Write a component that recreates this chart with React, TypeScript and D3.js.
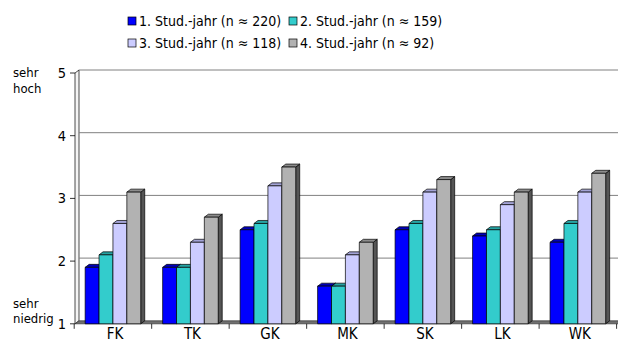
import React from "react";
import * as d3 from "d3";

// Skill areas (x axis) and mean self-ratings per year of study
const categories = ["FK", "TK", "GK", "MK", "SK", "LK", "WK"];
const seriesNames = [
  "1. Stud.-jahr (n ≈ 220)",
  "2. Stud.-jahr (n ≈ 159)",
  "3. Stud.-jahr (n ≈ 118)",
  "4. Stud.-jahr (n ≈ 92)",
];
const year1 = [1.9, 1.9, 2.5, 1.6, 2.5, 2.4, 2.3];
const year2 = [2.1, 1.9, 2.6, 1.6, 2.6, 2.5, 2.6];
const year3 = [2.6, 2.3, 3.2, 2.1, 3.1, 2.9, 3.1];
const year4 = [3.1, 2.7, 3.5, 2.3, 3.3, 3.1, 3.4];
const yTicks = [1, 2, 3, 4, 5];

const seriesValues = [year1, year2, year3, year4];
const frontColors = ["#0000ff", "#33cccc", "#ccccff", "#b2b2b2"];
const topColors = ["#0000b8", "#26a3a3", "#a3a3d6", "#8c8c8c"];
const sideColors = ["#00007a", "#1a6b6b", "#6b6b8c", "#555555"];

const W = 618;
const H = 342;
const DX = 4; // depth offset of the back wall
const DY = 3;
const FONT = "'DejaVu Sans Condensed', 'DejaVu Sans', Verdana, sans-serif";

export default function App() {
  const x0 = 75;
  const xRight = 618;
  const y = d3.scaleLinear().domain([1, 5]).range([323.8, 73]);
  const band = d3.scaleBand<string>().domain(categories).range([74.2, 616.6]).padding(0);
  const groupW = 55.6;
  const inner = d3
    .scaleBand<number>()
    .domain(d3.range(seriesNames.length))
    .range([0, groupW])
    .padding(0);
  const bw = inner.bandwidth();
  const yBase = y(1);

  const pts = (arr: [number, number][]) => arr.map((p) => p.join(",")).join(" ");

  const bars: React.ReactNode[] = [];
  categories.forEach((c, ci) => {
    const gx = (band(c) as number) + (band.bandwidth() - groupW) / 2;
    seriesValues.forEach((vals, si) => {
      const v = vals[ci];
      const xl = gx + (inner(si) as number);
      const xr = xl + bw;
      const yt = y(v);
      bars.push(
        <g key={`${c}-${si}`} stroke="#000" strokeWidth={0.7} strokeLinejoin="round">
          <polygon
            points={pts([
              [xr, yt],
              [xr + DX, yt - DY],
              [xr + DX, yBase - DY],
              [xr, yBase],
            ])}
            fill={sideColors[si]}
          />
          <polygon
            points={pts([
              [xl, yt],
              [xl + DX, yt - DY],
              [xr + DX, yt - DY],
              [xr, yt],
            ])}
            fill={topColors[si]}
          />
          <rect x={xl} y={yt} width={bw} height={yBase - yt} fill={frontColors[si]} />
        </g>
      );
    });
  });

  const boundaries = categories.map((c) => band(c) as number).concat([616.6]);

  return (
    <svg width={W} height={H} style={{ position: "absolute", left: 0, top: 0, background: "#fff" }}>
      {/* legend */}
      <g fontFamily={FONT} fontSize={14} fill="#000">
        {seriesNames.map((name, i) => {
          const col = i % 2;
          const row = Math.floor(i / 2);
          const sx = col === 0 ? 128 : 289;
          const cy = row === 0 ? 21 : 43;
          return (
            <g key={name}>
              <rect x={sx} y={cy - 4} width={8} height={8} fill={frontColors[i]} stroke="#000" strokeWidth={0.7} />
              <text x={sx + 11} y={cy + 5}>{name}</text>
            </g>
          );
        })}
      </g>

      {/* left wall */}
      <polygon
        points={pts([
          [x0, y(5)],
          [x0 + DX, y(5) - DY],
          [x0 + DX, yBase - DY],
          [x0, yBase],
        ])}
        fill="#f4f4f4"
        stroke="#000"
        strokeWidth={0.7}
      />

      {/* gridlines on the back wall */}
      {yTicks.slice(1).map((t) => (
        <line key={t} x1={x0 + DX} x2={xRight} y1={y(t) - DY} y2={y(t) - DY} stroke="#808080" strokeWidth={1} />
      ))}

      {/* floor */}
      <polygon
        points={pts([
          [x0, yBase],
          [xRight + 2, yBase],
          [xRight + 2 + DX, yBase - DY],
          [x0 + DX, yBase - DY],
        ])}
        fill="#707070"
        stroke="#333"
        strokeWidth={0.7}
      />

      {/* y axis ticks and labels */}
      <g fontFamily={FONT} fontSize={14.5} fill="#000">
        {yTicks.map((t) => (
          <g key={t}>
            <line x1={70} x2={x0} y1={y(t)} y2={y(t)} stroke="#000" strokeWidth={0.8} />
            <text x={66} y={y(t) + 5} textAnchor="end">{t}</text>
          </g>
        ))}
      </g>
      <g fontFamily={FONT} fontSize={13} fill="#000">
        <text x={13} y={77}>sehr</text>
        <text x={13} y={93}>hoch</text>
        <text x={13} y={308}>sehr</text>
        <text x={13} y={323}>niedrig</text>
      </g>

      {/* category ticks below the floor */}
      {boundaries.map((b, i) => (
        <line key={i} x1={b} x2={b} y1={yBase} y2={yBase + 5} stroke="#000" strokeWidth={0.8} />
      ))}

      {bars}

      {/* category labels */}
      <g fontFamily={FONT} fontSize={15} fill="#000" textAnchor="middle">
        {categories.map((c) => (
          <text key={c} x={(band(c) as number) + band.bandwidth() / 2 + 2} y={339}>
            {c}
          </text>
        ))}
      </g>
    </svg>
  );
}
